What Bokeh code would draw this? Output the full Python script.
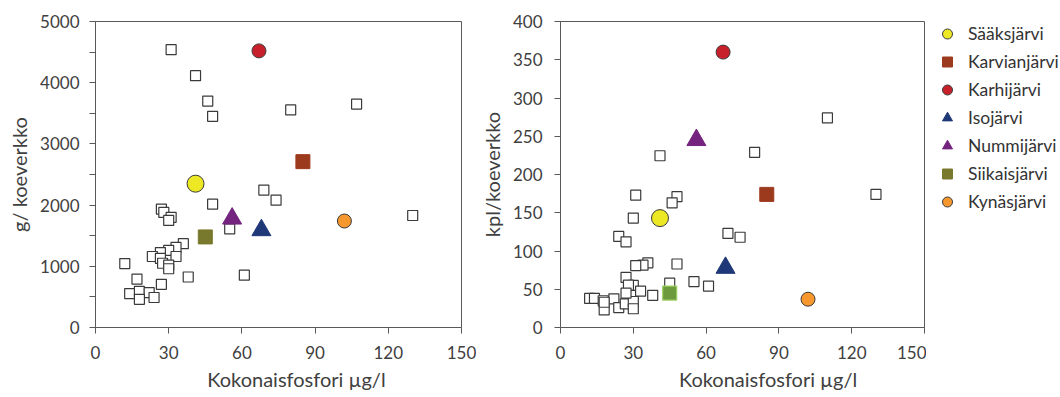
from bokeh.plotting import figure
from bokeh.layouts import row
from bokeh.models import FixedTicker, Legend, LegendItem
from bokeh.embed import file_html
from bokeh.resources import INLINE

# ---------------- data ----------------
x_ticks = [0, 30, 60, 90, 120, 150]
g_ticks = [0, 1000, 2000, 3000, 4000, 5000]
g_minor_ticks = [500, 1500, 2500, 3500, 4500]
kpl_ticks = [0, 50, 100, 150, 200, 250, 300, 350, 400]

x_title = "Kokonaisfosfori µg/l"
g_title = "g/ koeverkko"
kpl_title = "kpl/koeverkko"

# other lakes (hollow squares), left panel: total P vs g/net
other_p_g = [31, 41, 46, 48, 80, 107, 69, 74, 48, 130,
             27, 28, 31, 30, 55,
             36, 33, 30, 26.6, 23.3, 26.6, 33, 27.5, 30, 30,
             12, 38, 61, 17, 27, 14, 18, 22, 18, 24]
other_g = [4540, 4115, 3700, 3450, 3555, 3650, 2245, 2080, 2015, 1830,
           1935, 1880, 1800, 1750, 1610,
           1370, 1310, 1260, 1225, 1160, 1130, 1160, 1050, 1020, 960,
           1045, 825, 855, 790, 705, 555, 590, 570, 460, 490]

# other lakes (hollow squares), right panel: total P vs individuals/net
other_p_kpl = [110, 80, 41, 31, 48, 46, 130, 30, 69, 74,
               24, 27, 36, 34, 31, 48, 55, 61, 27, 45,
               30, 28, 33, 38, 12, 14, 17.6, 18, 22, 24,
               26.7, 30, 30, 27, 18]
other_kpl = [274, 229, 224.5, 173, 171, 163, 174, 143, 123, 118,
             119, 112, 84.5, 81.5, 81, 83, 60, 54, 65.5, 58,
             55, 55.5, 47.5, 42, 38, 38, 35, 23, 37.5, 26,
             31, 34, 24.5, 45, 33]

# highlighted lakes
lakes = ["Sääksjärvi", "Karvianjärvi", "Karhijärvi", "Isojärvi",
         "Nummijärvi", "Siikaisjärvi", "Kynäsjärvi"]
lake_p = [41, 85, 67, 68, 56, 45, 102]
lake_g = [2350, 2710, 4520, 1590, 1780, 1480, 1740]
lake_kpl = [143, 174, 360, 78, 245, 45, 37]

# ---------------- styles ----------------
lake_marker = ["circle", "square", "circle", "triangle", "triangle", "square", "circle"]
lake_fill = ["#EDE824", "#9C3A1E", "#C8202B", "#1F3978", "#74237E", "#78792C", "#F7982F"]
lake_line = ["#3A3A3A", None, "#3A3A3A", None, None, None, "#3A3A3A"]
lake_size = [17, 14, 14, 19, 19, 14, 14]
siika_right_fill = "#6E9A3E"
siika_right_line = "#9CD062"

FONT = "Lato"
TXT = "#404040"
AX = "#595959"
NB = "\u00a0"


def style(p, yticks, yminor=None):
    p.xgrid.visible = False
    p.ygrid.visible = False
    p.outline_line_color = AX
    p.outline_line_width = 1
    p.background_fill_color = "white"
    p.border_fill_color = "white"
    p.xaxis.ticker = FixedTicker(ticks=x_ticks)
    if yminor:
        p.yaxis.ticker = FixedTicker(ticks=yticks, minor_ticks=yminor)
    else:
        p.yaxis.ticker = FixedTicker(ticks=yticks)
    for ax in (p.xaxis[0], p.yaxis[0]):
        ax.axis_line_color = AX
        ax.major_tick_line_color = AX
        ax.minor_tick_line_color = AX
        ax.major_tick_in = 0
        ax.major_tick_out = 6
        ax.minor_tick_in = 0
        ax.minor_tick_out = 6
        ax.major_label_text_font = FONT
        ax.major_label_text_font_size = "17px"
        ax.major_label_text_color = TXT
        ax.axis_label_text_font = FONT
        ax.axis_label_text_font_size = "20px"
        ax.axis_label_text_font_style = "normal"
        ax.axis_label_text_color = TXT
    p.xaxis.minor_tick_line_color = None
    if not yminor:
        p.yaxis.minor_tick_line_color = None
    p.xaxis.major_label_standoff = 12
    p.yaxis.major_label_standoff = 10
    p.xaxis.axis_label_standoff = 5


# ---------------- left figure ----------------
p1 = figure(width=476, height=397, x_range=(0, 150), y_range=(0, 5000),
            output_backend="svg", toolbar_location=None,
            min_border_left=95, min_border_right=15,
            min_border_top=21, min_border_bottom=70)
style(p1, g_ticks, g_minor_ticks)
p1.xaxis.axis_label = NB * 7 + x_title
p1.yaxis.axis_label = g_title
p1.yaxis.axis_label_standoff = 6

p1.scatter(other_p_g, other_g, marker="square", size=10,
           fill_color="white", line_color="#3A3A3A", line_width=1.2)
for i, name in enumerate(lakes):
    p1.scatter([lake_p[i]], [lake_g[i]], marker=lake_marker[i], size=lake_size[i],
               fill_color=lake_fill[i], line_color=lake_line[i] or lake_fill[i],
               line_width=1)

# ---------------- right figure ----------------
p2 = figure(width=450, height=397, x_range=(0, 150), y_range=(0, 400),
            output_backend="svg", toolbar_location=None,
            min_border_left=79, min_border_right=2,
            min_border_top=20, min_border_bottom=70)
style(p2, kpl_ticks)
p2.xaxis.axis_label = NB * 10 + x_title
p2.yaxis.axis_label = kpl_title
p2.yaxis.major_label_standoff = 12
p2.yaxis.axis_label_standoff = 6

p2.scatter(other_p_kpl, other_kpl, marker="square", size=10,
           fill_color="white", line_color="#3A3A3A", line_width=1.2)
for i, name in enumerate(lakes):
    if name == "Siikaisjärvi":
        fc, lc, lw = siika_right_fill, siika_right_line, 1.2
    else:
        fc, lc, lw = lake_fill[i], lake_line[i] or lake_fill[i], 1
    p2.scatter([lake_p[i]], [lake_kpl[i]], marker=lake_marker[i], size=lake_size[i],
               fill_color=fc, line_color=lc, line_width=lw)

# ---------------- legend panel ----------------
p3 = figure(width=134, height=397, x_range=(0, 1), y_range=(0, 1),
            output_backend="svg", toolbar_location=None,
            x_axis_location=None, y_axis_location=None,
            min_border=0)
p3.xgrid.visible = False
p3.ygrid.visible = False
p3.outline_line_color = None
p3.background_fill_color = "white"
p3.border_fill_color = "white"
items = []
for i, name in enumerate(lakes):
    # lake values lie outside this panel's 0..1 range, so only the legend glyph shows
    r = p3.scatter([lake_p[i]], [lake_g[i]], marker=lake_marker[i], size=lake_size[i],
                   fill_color=lake_fill[i], line_color=lake_line[i] or lake_fill[i],
                   line_width=1)
    items.append(LegendItem(label=name, renderers=[r]))

legend = Legend(items=items, location="top_left", orientation="vertical",
                glyph_width=42, glyph_height=25, label_height=25, spacing=3,
                label_standoff=-8, padding=0, margin=0,
                border_line_color=None, background_fill_alpha=0,
                label_text_font=FONT, label_text_font_size="17.5px",
                label_text_color="#333333")
p3.add_layout(legend, "center")

layout = row(p1, p2, p3)
open("out.html", "w").write(file_html(layout, INLINE))
